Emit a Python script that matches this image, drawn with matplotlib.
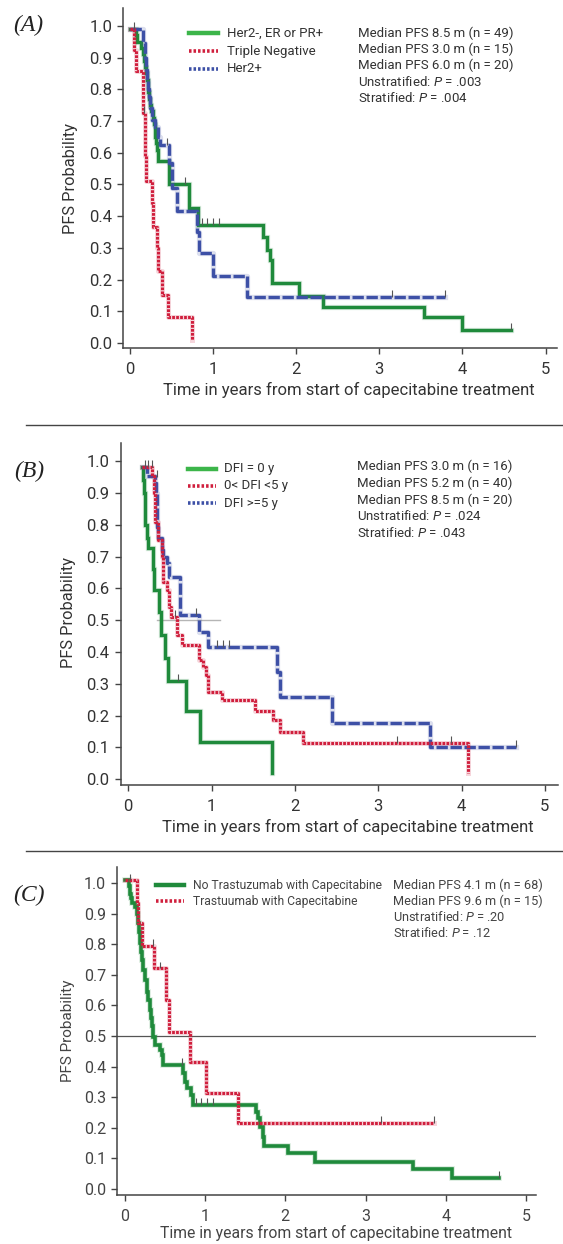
import matplotlib
matplotlib.use('Agg')
import matplotlib.pyplot as plt
from matplotlib.lines import Line2D

plt.rcParams['font.family'] = ['Roboto', 'DejaVu Sans']
plt.rcParams['mathtext.fontset'] = 'custom'
plt.rcParams['mathtext.rm'] = 'Roboto'
plt.rcParams['mathtext.it'] = 'Roboto:italic'

# ---------------- data ----------------
XTICKS = [0, 1, 2, 3, 4, 5]
YTICKS = [0.0, 0.1, 0.2, 0.3, 0.4, 0.5, 0.6, 0.7, 0.8, 0.9, 1.0]
XLABEL = 'Time in years from start of capecitabine treatment'
YLABEL = 'PFS Probability'

# Panel A
a_green_t = [0.0, 0.075, 0.09, 0.14, 0.165, 0.175, 0.185, 0.195, 0.205, 0.215, 0.225, 0.235,
             0.245, 0.26, 0.275, 0.29, 0.30, 0.31, 0.32, 0.335, 0.345, 0.477, 0.718, 0.826,
             1.60, 1.648, 1.688, 1.708, 2.03, 2.33, 3.54, 4.0, 4.58]
a_green_s = [0.99, 0.97, 0.95, 0.93, 0.91, 0.89, 0.87, 0.85, 0.83, 0.81, 0.79, 0.77,
             0.75, 0.73, 0.71, 0.69, 0.67, 0.65, 0.63, 0.61, 0.575, 0.502, 0.425, 0.373,
             0.336, 0.294, 0.262, 0.189, 0.15, 0.115, 0.082, 0.042, 0.042]
a_red_t = [0.0, 0.053, 0.077, 0.155, 0.165, 0.18, 0.19, 0.20, 0.265, 0.285, 0.335, 0.345,
           0.386, 0.465, 0.746]
a_red_s = [0.99, 0.924, 0.858, 0.79, 0.724, 0.66, 0.59, 0.51, 0.441, 0.367, 0.30, 0.226,
           0.152, 0.084, 0.01]
a_blue_t = [0.0, 0.165, 0.18, 0.185, 0.20, 0.213, 0.225, 0.237, 0.25, 0.266, 0.30, 0.345,
            0.365, 0.477, 0.506, 0.566, 0.814, 0.83, 1.006, 1.407, 3.79]
a_blue_s = [0.99, 0.945, 0.92, 0.90, 0.86, 0.83, 0.80, 0.777, 0.74, 0.703, 0.682, 0.651,
            0.625, 0.567, 0.488, 0.418, 0.35, 0.283, 0.212, 0.145, 0.145]
a_cens_t = [0.05, 0.666, 0.866, 0.927, 1.006, 1.078, 4.58, 0.446, 3.15, 3.79, 0.177]
a_cens_s = [0.99, 0.502, 0.373, 0.373, 0.373, 0.373, 0.042, 0.625, 0.145, 0.145, 0.724]
a_labels = ['Her2-, ER or PR+', 'Triple Negative', 'Her2+']
a_stats = ['Median PFS 8.5 m (n = 49)', 'Median PFS 3.0 m (n = 15)',
           'Median PFS 6.0 m (n = 20)', 'Unstratified: $P$ = .003', 'Stratified: $P$ = .004']

# Panel B
b_green_t = [0.17, 0.18, 0.19, 0.195, 0.20, 0.22, 0.232, 0.30, 0.305, 0.372, 0.39, 0.44,
             0.48, 0.693, 0.86, 1.72]
b_green_s = [0.983, 0.94, 0.90, 0.86, 0.80, 0.758, 0.726, 0.66, 0.595, 0.527, 0.454, 0.38,
             0.309, 0.216, 0.118, 0.019]
b_red_t = [0.17, 0.29, 0.305, 0.32, 0.36, 0.40, 0.42, 0.46, 0.49, 0.51, 0.58, 0.64, 0.853,
           0.90, 0.933, 0.96, 1.12, 1.52, 1.74, 1.82, 2.10, 4.08]
b_red_s = [0.983, 0.952, 0.899, 0.81, 0.753, 0.70, 0.621, 0.595, 0.543, 0.511, 0.454, 0.422,
           0.375, 0.354, 0.328, 0.275, 0.249, 0.216, 0.186, 0.15, 0.115, 0.02]
b_blue_t = [0.16, 0.22, 0.32, 0.33, 0.345, 0.36, 0.40, 0.42, 0.46, 0.49, 0.62, 0.853, 0.96,
            1.78, 1.82, 2.45, 3.62, 4.65]
b_blue_s = [0.983, 0.952, 0.931, 0.899, 0.794, 0.76, 0.721, 0.70, 0.679, 0.637, 0.517, 0.464,
            0.417, 0.338, 0.26, 0.178, 0.10, 0.10]
b_cens_t = [0.20, 0.24, 0.28, 0.34, 0.60, 0.56, 0.81, 1.06, 1.14, 1.21, 3.22, 3.87, 4.65]
b_cens_s = [0.983, 0.983, 0.983, 0.95, 0.309, 0.511, 0.517, 0.417, 0.417, 0.417, 0.115,
            0.115, 0.10]
b_median_ref = [0.34, 1.10]
b_labels = ['DFI = 0 y', '0< DFI <5 y', 'DFI >=5 y']
b_stats = ['Median PFS 3.0 m (n = 16)', 'Median PFS 5.2 m (n = 40)',
           'Median PFS 8.5 m (n = 20)', 'Unstratified: $P$ = .024', 'Stratified: $P$ = .043']

# Panel C
c_green_t = [0.0, 0.05, 0.065, 0.08, 0.089, 0.13, 0.15, 0.172, 0.18, 0.193, 0.205, 0.214,
             0.234, 0.255, 0.276, 0.296, 0.317, 0.328, 0.338, 0.358, 0.379, 0.44, 0.46, 0.483,
             0.724, 0.752, 0.781, 0.823, 0.848, 1.636, 1.665, 1.685, 1.719, 1.735, 2.04, 2.37,
             3.59, 4.07, 4.66]
c_green_s = [1.008, 0.99, 0.965, 0.95, 0.934, 0.92, 0.90, 0.868, 0.84, 0.803, 0.775, 0.748,
             0.716, 0.683, 0.645, 0.618, 0.585, 0.56, 0.531, 0.498, 0.471, 0.454, 0.438, 0.405,
             0.378, 0.351, 0.329, 0.307, 0.275, 0.253, 0.231, 0.204, 0.171, 0.141, 0.117, 0.089,
             0.064, 0.037, 0.037]
c_red_t = [0.0, 0.152, 0.172, 0.214, 0.367, 0.516, 0.557, 0.815, 1.014, 1.416, 3.85]
c_red_s = [1.008, 0.934, 0.868, 0.794, 0.721, 0.618, 0.514, 0.416, 0.315, 0.215, 0.215]
c_cens_t = [0.066, 0.71, 0.89, 0.95, 1.02, 1.10, 4.66, 0.356, 0.44, 3.19, 3.85]
c_cens_s = [1.008, 0.405, 0.275, 0.275, 0.275, 0.275, 0.037, 0.794, 0.721, 0.215, 0.215]
c_median_line = 0.5
c_labels = ['No Trastuzumab with Capecitabine', 'Trastuumab with Capecitabine']
c_stats = ['Median PFS 4.1 m (n = 68)', 'Median PFS 9.6 m (n = 15)',
           'Unstratified: $P$ = .20', 'Stratified: $P$ = .12']

# ---------------- styles ----------------
W, H = 563, 1244
GREEN = '#1f8a3b'
GREEN_LEG = '#3cb54a'
RED = '#d01f3d'
BLUE = '#3d50a6'
TXT = '#333333'
green_style = dict(color=GREEN, lw=2.4, ls='-', solid_joinstyle='miter')
red_style = dict(color=RED, lw=2.2, ls=(0, (0.9, 0.4)))
blue_style = dict(color=BLUE, lw=2.4, ls=(0, (3.4, 0.8)))

fig = plt.figure(figsize=(W / 100, H / 100), dpi=100)


def fx(x):
    return x / W


def fy(y):
    return 1 - y / H


def make_axes(l, t, r, b, xlim, ylim, fs=12, col=TXT):
    ax = fig.add_axes([l / W, 1 - b / H, (r - l) / W, (b - t) / H])
    ax.set_xlim(*xlim)
    ax.set_ylim(*ylim)
    for s in ['top', 'right']:
        ax.spines[s].set_visible(False)
    for s in ['left', 'bottom']:
        ax.spines[s].set_color('#444444')
        ax.spines[s].set_linewidth(1.1)
    ax.set_xticks(XTICKS)
    ax.set_yticks(YTICKS)
    ax.set_yticklabels([f'{v:.1f}' for v in YTICKS])
    ax.tick_params(direction='out', length=4, width=1, colors='#444444', labelsize=fs,
                   labelcolor=col)
    ax.tick_params(axis='x', pad=6)
    ax.tick_params(axis='y', pad=4)
    return ax


def km(ax, t, s, style):
    halo = dict(style)
    halo.update(lw=style['lw'] + 1.4, alpha=0.18, ls='-')
    ax.step(t, s, where='post', **halo)
    ax.step(t, s, where='post', **style)


def censor(ax, t, s, dy=0.022):
    ax.vlines(t, s, [v + dy for v in s], color='#555555', lw=0.8, zorder=5)


def legend(x1, x2, xt, ys, labels, styles, fs=9.5, col=TXT):
    for y, lab, st in zip(ys, labels, styles):
        fig.add_artist(Line2D([fx(x1), fx(x2)], [fy(y), fy(y)], transform=fig.transFigure, **st))
        fig.text(fx(xt), fy(y), lab, fontsize=fs, color=col, va='center', ha='left')


def stats(x, ys, lines, fs=9.5, col=TXT):
    for y, s in zip(ys, lines):
        fig.text(fx(x), fy(y), s, fontsize=fs, color=col, va='center', ha='left')


leg_green = dict(color=GREEN_LEG, lw=3.2, ls='-')
leg_red = dict(color=RED, lw=2.6, ls=(0, (0.7, 0.55)))
leg_blue = dict(color=BLUE, lw=2.6, ls=(0, (0.7, 0.55)))

# ---------------- panel A ----------------
axA = make_axes(123.3, 8.3, 557, 348.3, (-0.076, 5.137), (-0.016, 1.055))
km(axA, a_green_t, a_green_s, green_style)
km(axA, a_blue_t, a_blue_s, blue_style)
km(axA, a_red_t, a_red_s, red_style)
censor(axA, a_cens_t, a_cens_s)
fig.text(fx(349), fy(390), XLABEL, fontsize=12, color=TXT, ha='center', va='center')
fig.text(fx(70), fy(178), YLABEL, fontsize=11.8, color=TXT, ha='center', va='center',
         rotation=90)
fig.text(fx(28), fy(25), '(A)', fontsize=17, family='Liberation Serif', style='italic',
         color='#222222', ha='center', va='center')
legend(189, 218, 227, [33, 51, 69], a_labels, [leg_green, leg_red, leg_blue])
stats(358, [33, 49.3, 65.7, 82, 98.3], a_stats)

fig.add_artist(Line2D([fx(26), fx(563)], [fy(425), fy(425)], transform=fig.transFigure,
                      color='#444444', lw=1.0))

# ---------------- panel B ----------------
axB = make_axes(120.7, 442.7, 557.5, 785, (-0.091, 5.152), (-0.018, 1.058))
axB.plot(b_median_ref, [0.5, 0.5], color='#b5b5b5', lw=1.0, zorder=1)
km(axB, b_green_t, b_green_s, green_style)
km(axB, b_blue_t, b_blue_s, blue_style)
km(axB, b_red_t, b_red_s, red_style)
censor(axB, b_cens_t, b_cens_s)
fig.text(fx(348), fy(826.7), XLABEL, fontsize=12, color=TXT, ha='center', va='center')
fig.text(fx(68), fy(613), YLABEL, fontsize=11.8, color=TXT, ha='center', va='center',
         rotation=90)
fig.text(fx(29), fy(471), '(B)', fontsize=17, family='Liberation Serif', style='italic',
         color='#222222', ha='center', va='center')
legend(187.5, 216, 224, [469, 486, 503], b_labels, [leg_green, leg_red, leg_blue])
stats(357, [466.7, 483.3, 500, 516.3, 532.7], b_stats)

fig.add_artist(Line2D([fx(26), fx(563)], [fy(851), fy(851)], transform=fig.transFigure,
                      color='#444444', lw=1.0))

# ---------------- panel C ----------------
axC = make_axes(117.3, 867.3, 536, 1195, (-0.09, 5.12), (-0.0196, 1.051), fs=11.5,
                col='#444444')
axC.axhline(c_median_line, color='#555555', lw=0.9, zorder=1)
km(axC, c_green_t, c_green_s, dict(green_style, lw=2.6))
km(axC, c_red_t, c_red_s, red_style)
censor(axC, c_cens_t, c_cens_s)
fig.text(fx(336), fy(1233), XLABEL, fontsize=11.3, color='#444444', ha='center',
         va='center')
fig.text(fx(68), fy(1031), YLABEL, fontsize=11, color='#444444', ha='center', va='center',
         rotation=90)
fig.text(fx(29), fy(895), '(C)', fontsize=17, family='Liberation Serif', style='italic',
         color='#222222', ha='center', va='center')
legend(156, 184, 193, [885, 901], c_labels, [dict(leg_green, color=GREEN), leg_red],
       fs=8.7, col='#444444')
stats(393, [885.7, 901.3, 917, 932.7], c_stats, fs=9.2, col='#444444')

fig.savefig('out.png', dpi=100)
